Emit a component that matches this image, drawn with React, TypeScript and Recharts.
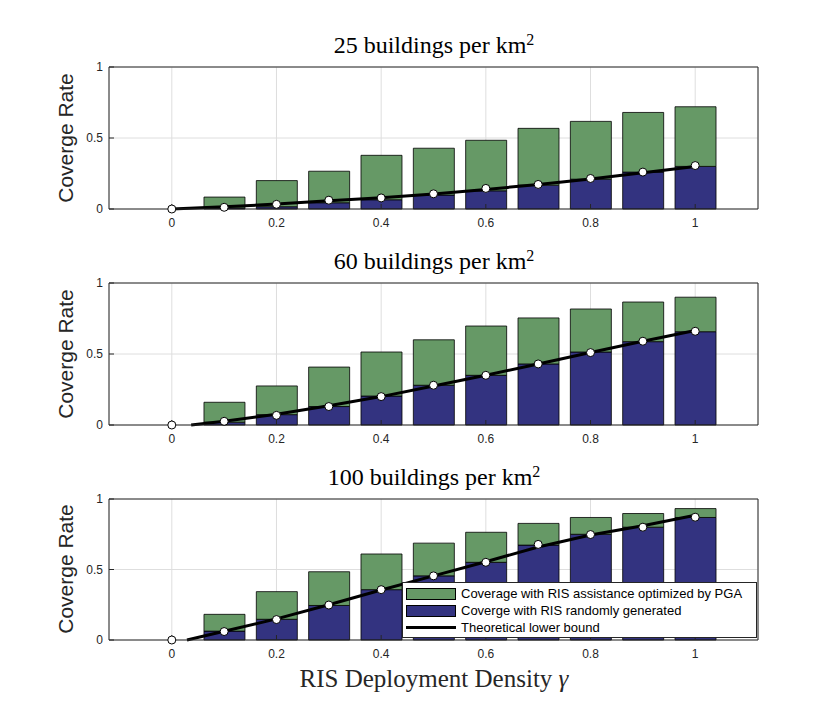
import React from "react";
import {
  ComposedChart,
  Bar,
  Line,
  XAxis,
  YAxis,
  CartesianGrid,
} from "recharts";

// RIS deployment density values (bar centres)
const gamma = [0, 0.1, 0.2, 0.3, 0.4, 0.5, 0.6, 0.7, 0.8, 0.9, 1.0];
const xTicks = [0, 0.2, 0.4, 0.6, 0.8, 1];
const yTicks = [0, 0.5, 1];

// 25 buildings per km^2
const pga25 = [0, 0.084, 0.2, 0.266, 0.378, 0.428, 0.484, 0.568, 0.617, 0.68, 0.72];
const rand25 = [0, 0.007, 0.016, 0.044, 0.065, 0.098, 0.128, 0.168, 0.21, 0.26, 0.3];
const sim25 = [0, 0.012, 0.033, 0.062, 0.078, 0.107, 0.145, 0.173, 0.215, 0.26, 0.306];
const boundGamma25 = [0, 0.1, 0.2, 0.3, 0.4, 0.5, 0.6, 0.7, 0.8, 0.9, 1.0];
const bound25 = [0, 0.015, 0.035, 0.058, 0.08, 0.105, 0.138, 0.172, 0.212, 0.255, 0.3];

// 60 buildings per km^2
const pga60 = [0, 0.16, 0.275, 0.408, 0.514, 0.6, 0.697, 0.754, 0.817, 0.866, 0.9];
const rand60 = [0, 0.02, 0.073, 0.13, 0.204, 0.28, 0.35, 0.43, 0.514, 0.587, 0.657];
const sim60 = [0, 0.026, 0.068, 0.13, 0.2, 0.28, 0.35, 0.43, 0.51, 0.59, 0.66];
const boundGamma60 = [0.037, 0.1, 0.2, 0.3, 0.4, 0.5, 0.6, 0.7, 0.8, 0.9, 1.0];
const bound60 = [0, 0.026, 0.075, 0.135, 0.2, 0.275, 0.35, 0.43, 0.51, 0.59, 0.665];

// 100 buildings per km^2
const pga100 = [0, 0.182, 0.343, 0.484, 0.61, 0.687, 0.764, 0.827, 0.869, 0.897, 0.932];
const rand100 = [0, 0.063, 0.147, 0.245, 0.357, 0.455, 0.551, 0.673, 0.75, 0.8, 0.869];
const sim100 = [0, 0.06, 0.145, 0.248, 0.357, 0.455, 0.551, 0.678, 0.748, 0.8, 0.871];
const boundGamma100 = [0.029, 0.1, 0.2, 0.3, 0.4, 0.5, 0.6, 0.7, 0.8, 0.9, 1.0];
const bound100 = [0, 0.062, 0.15, 0.25, 0.355, 0.455, 0.555, 0.66, 0.745, 0.81, 0.885];

const legendItems = [
  { label: "Coverage with RIS assistance optimized by PGA", kind: "patch", color: "#669966" },
  { label: "Coverge with RIS randomly generated", kind: "patch", color: "#333380" },
  { label: "Theoretical lower bound", kind: "line", color: "#000000" },
];

const GREEN = "#669966";
const BLUE = "#333380";
const tickStyle = { fill: "#262626", fontSize: 12, fontFamily: "Liberation Sans, Arial, sans-serif" };

interface PanelProps {
  top: number;
  plotHeight: number;
  density: number;
  pga: number[];
  rand: number[];
  sim: number[];
  boundGamma: number[];
  bound: number[];
  showLegend?: boolean;
}

function Panel({ top, plotHeight, density, pga, rand, sim, boundGamma, bound, showLegend }: PanelProps) {
  const rows = gamma.map((g, i) => ({
    gamma: g,
    rand: rand[i],
    extra: +(pga[i] - rand[i]).toFixed(4),
    sim: sim[i],
  }));
  const boundRows = boundGamma.map((g, i) => ({ gamma: g, bound: bound[i] }));
  const H = 240;
  const mTop = 66;
  const xAxisH = 25;

  return (
    <div style={{ position: "absolute", left: 0, top, width: 840, height: H }}>
      <ComposedChart
        width={840}
        height={H}
        data={rows}
        margin={{ top: mTop, right: 81, left: 69, bottom: H - mTop - plotHeight - xAxisH }}
      >
        <CartesianGrid stroke="#dedede" strokeWidth={1} />
        <XAxis
          dataKey="gamma"
          type="number"
          domain={[-0.12, 1.12]}
          ticks={xTicks}
          allowDataOverflow
          height={xAxisH}
          tick={tickStyle}
          tickSize={-5}
          tickMargin={14}
          stroke="#262626"
        />
        <XAxis
          xAxisId="top"
          orientation="top"
          dataKey="gamma"
          type="number"
          domain={[-0.12, 1.12]}
          ticks={xTicks}
          allowDataOverflow
          height={1}
          tick={false}
          tickSize={-5}
          stroke="#262626"
        />
        <YAxis
          type="number"
          domain={[0, 1]}
          ticks={yTicks}
          width={40}
          tick={tickStyle}
          tickSize={-5}
          tickMargin={11}
          stroke="#262626"
        />
        <YAxis
          yAxisId="right"
          orientation="right"
          type="number"
          domain={[0, 1]}
          ticks={yTicks}
          width={1}
          tick={false}
          tickSize={-5}
          stroke="#262626"
        />
        <Bar dataKey="rand" stackId="a" fill={BLUE} stroke="#000" strokeWidth={0.8} barSize={41} isAnimationActive={false} />
        <Bar dataKey="extra" stackId="a" fill={GREEN} stroke="#000" strokeWidth={0.8} barSize={41} isAnimationActive={false} />
        <Line
          xAxisId="top"
          data={boundRows}
          dataKey="bound"
          type="linear"
          stroke="#000"
          strokeWidth={3}
          dot={false}
          isAnimationActive={false}
        />
        <Line
          yAxisId="right"
          dataKey="sim"
          stroke="none"
          dot={{ r: 4, fill: "#fff", stroke: "#000", strokeWidth: 1 }}
          isAnimationActive={false}
        />
      </ComposedChart>
      <div
        style={{
          position: "absolute",
          left: 434,
          top: 45,
          transform: "translate(-50%, -50%)",
          fontFamily: "Liberation Serif, serif",
          fontSize: 24,
          whiteSpace: "nowrap",
          color: "#000",
        }}
      >
        {density} buildings per km<sup style={{ fontSize: 16, verticalAlign: "0.5em", lineHeight: 0 }}>2</sup>
      </div>
      <div
        style={{
          position: "absolute",
          left: 66,
          top: mTop + plotHeight / 2,
          transform: "translate(-50%, -50%) rotate(-90deg)",
          fontFamily: "Liberation Sans, Arial, sans-serif",
          fontSize: 21,
          whiteSpace: "nowrap",
          color: "#262626",
        }}
      >
        Coverge Rate
      </div>
      {showLegend && (
        <div
          style={{
            position: "absolute",
            left: 402,
            top: 150,
            width: 355,
            height: 56,
            background: "#fff",
            border: "1px solid #262626",
            boxSizing: "border-box",
            padding: "2px 0 0 3px",
            fontFamily: "Liberation Sans, Arial, sans-serif",
            fontSize: 13,
            color: "#000",
          }}
        >
          {legendItems.map((it) => (
            <div key={it.label} style={{ display: "flex", alignItems: "center", height: 17 }}>
              {it.kind === "patch" ? (
                <div style={{ width: 50, height: 12, background: it.color, border: "1px solid #000", boxSizing: "border-box" }} />
              ) : (
                <div style={{ width: 50, height: 3, background: it.color }} />
              )}
              <span style={{ marginLeft: 5, whiteSpace: "nowrap" }}>{it.label}</span>
            </div>
          ))}
        </div>
      )}
    </div>
  );
}

export default function App() {
  return (
    <div style={{ position: "relative", width: 840, height: 720, background: "#fff" }}>
      <style>{`body{margin:0}`}</style>
      <Panel top={0} plotHeight={143} density={25} pga={pga25} rand={rand25} sim={sim25} boundGamma={boundGamma25} bound={bound25} />
      <Panel top={216} plotHeight={143} density={60} pga={pga60} rand={rand60} sim={sim60} boundGamma={boundGamma60} bound={bound60} />
      <Panel top={432} plotHeight={142} density={100} pga={pga100} rand={rand100} sim={sim100} boundGamma={boundGamma100} bound={bound100} showLegend />
      <div
        style={{
          position: "absolute",
          left: 434,
          top: 679,
          transform: "translate(-50%, -50%)",
          fontFamily: "Liberation Serif, serif",
          fontSize: 25,
          whiteSpace: "nowrap",
          color: "#262626",
        }}
      >
        RIS Deployment Density <i>γ</i>
      </div>
    </div>
  );
}
